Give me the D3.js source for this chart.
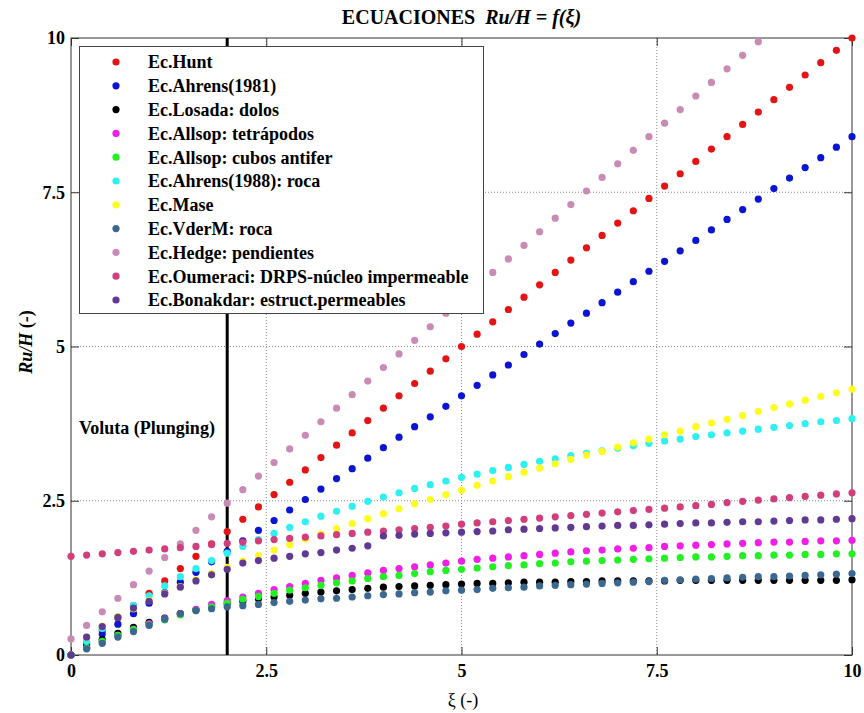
<!DOCTYPE html>
<html>
<head>
<meta charset="utf-8">
<script src="https://cdn.jsdelivr.net/npm/d3@7"></script>
</head>
<body style="margin:0;padding:0;background:#fff">
<svg id="chart" width="864" height="713" font-family="'Liberation Serif'" style="display:block"></svg>
<script>
// ---------------- data ----------------
const xi = [0,0.2,0.4,0.6,0.8,1.0,1.2,1.4,1.6,1.8,
  2.0,2.2,2.4,2.6,2.8,3.0,3.2,3.4,3.6,3.8,
  4.0,4.2,4.4,4.6,4.8,5.0,5.2,5.4,5.6,5.8,
  6.0,6.2,6.4,6.6,6.8,7.0,7.2,7.4,7.6,7.8,
  8.0,8.2,8.4,8.6,8.8,9.0,9.2,9.4,9.6,9.8,10.0];

const hunt = [0,0.2,0.4,0.6,0.8,1.0,1.2,1.4,1.6,1.8,
  2.0,2.2,2.4,2.6,2.8,3.0,3.2,3.4,3.6,3.8,
  4.0,4.2,4.4,4.6,4.8,5.0,5.2,5.4,5.6,5.8,
  6.0,6.2,6.4,6.6,6.8,7.0,7.2,7.4,7.6,7.8,
  8.0,8.2,8.4,8.6,8.8,9.0,9.2,9.4,9.6,9.8,10.0];

const ahrens1981 = [0,0.17,0.34,0.50,0.67,0.84,1.01,1.18,1.34,1.51,
  1.68,1.85,2.02,2.18,2.35,2.52,2.69,2.86,3.02,3.19,
  3.36,3.53,3.70,3.86,4.03,4.20,4.37,4.54,4.70,4.87,
  5.04,5.21,5.38,5.54,5.71,5.88,6.05,6.22,6.38,6.55,
  6.72,6.89,7.06,7.22,7.39,7.56,7.73,7.90,8.06,8.23,8.40];

const losada = [0,0.13,0.25,0.35,0.45,0.53,0.60,0.67,0.73,0.78,
  0.83,0.87,0.91,0.94,0.97,1.00,1.02,1.04,1.06,1.08,
  1.10,1.11,1.12,1.13,1.14,1.15,1.16,1.16,1.17,1.18,
  1.18,1.18,1.19,1.19,1.20,1.20,1.20,1.20,1.20,1.21,
  1.21,1.21,1.21,1.21,1.21,1.21,1.21,1.21,1.21,1.21,1.22];

const allsopTetrapodos = [0,0.11,0.22,0.32,0.42,0.51,0.59,0.67,0.74,0.82,
  0.88,0.94,1.00,1.06,1.11,1.16,1.21,1.25,1.29,1.33,
  1.37,1.40,1.43,1.46,1.49,1.52,1.55,1.57,1.59,1.61,
  1.63,1.65,1.67,1.69,1.70,1.72,1.73,1.74,1.76,1.77,
  1.78,1.79,1.80,1.81,1.82,1.83,1.83,1.84,1.85,1.85,1.86];

const allsopCubos = [0,0.11,0.22,0.32,0.41,0.49,0.57,0.65,0.72,0.78,
  0.84,0.90,0.95,1.00,1.05,1.09,1.13,1.17,1.20,1.24,
  1.27,1.29,1.32,1.35,1.37,1.39,1.41,1.43,1.45,1.46,
  1.48,1.49,1.51,1.52,1.53,1.54,1.55,1.56,1.57,1.58,
  1.59,1.59,1.60,1.61,1.61,1.62,1.62,1.63,1.63,1.64,1.64];

const ahrens1988 = [0,0.22,0.43,0.62,0.80,0.96,1.12,1.27,1.40,1.53,
  1.65,1.76,1.87,1.97,2.07,2.16,2.25,2.33,2.41,2.49,
  2.56,2.63,2.70,2.76,2.82,2.88,2.93,2.99,3.04,3.09,
  3.14,3.18,3.23,3.27,3.31,3.35,3.39,3.43,3.47,3.50,
  3.54,3.57,3.60,3.63,3.66,3.69,3.72,3.75,3.78,3.80,3.83];

const mase = [0,0.29,0.47,0.62,0.75,0.88,1.00,1.11,1.22,1.32,
  1.42,1.52,1.61,1.70,1.79,1.88,1.96,2.05,2.13,2.21,
  2.29,2.37,2.45,2.52,2.60,2.67,2.75,2.82,2.89,2.96,
  3.03,3.10,3.17,3.24,3.30,3.37,3.44,3.50,3.57,3.63,
  3.70,3.76,3.82,3.88,3.95,4.01,4.07,4.13,4.19,4.25,4.31];

const vderm = [0,0.10,0.19,0.29,0.38,0.48,0.58,0.67,0.72,0.75,
  0.78,0.80,0.82,0.85,0.87,0.89,0.91,0.92,0.94,0.96,
  0.98,0.99,1.01,1.02,1.04,1.05,1.06,1.08,1.09,1.10,
  1.12,1.13,1.14,1.15,1.16,1.17,1.18,1.19,1.21,1.22,
  1.23,1.24,1.25,1.26,1.27,1.27,1.28,1.29,1.30,1.31,1.32];

const hedge = [0.26,0.48,0.70,0.92,1.14,1.36,1.58,1.80,2.02,2.24,
  2.46,2.68,2.90,3.12,3.34,3.56,3.78,4.00,4.22,4.44,
  4.66,4.88,5.10,5.32,5.54,5.76,5.98,6.20,6.42,6.64,
  6.86,7.08,7.30,7.52,7.74,7.96,8.18,8.40,8.62,8.84,
  9.06,9.28,9.50,9.72,9.94,10.16,10.38,10.60,10.82,11.04,11.26];

const oumeraci = [1.60,1.62,1.64,1.66,1.68,1.70,1.72,1.74,1.76,1.79,
  1.81,1.83,1.85,1.87,1.89,1.91,1.93,1.95,1.97,1.99,
  2.01,2.03,2.05,2.07,2.09,2.12,2.14,2.16,2.18,2.20,
  2.22,2.24,2.26,2.28,2.30,2.32,2.34,2.36,2.38,2.40,
  2.42,2.44,2.47,2.49,2.51,2.53,2.55,2.57,2.59,2.61,2.63];

const bonakdar = [0,0.29,0.46,0.61,0.76,0.87,0.99,1.10,1.20,1.30,
  1.39,1.49,1.53,1.57,1.60,1.64,1.66,1.70,1.73,1.77,
  1.93,1.94,1.96,1.97,1.98,1.99,2.00,2.01,2.03,2.04,
  2.05,2.06,2.07,2.08,2.09,2.10,2.10,2.11,2.12,2.13,
  2.14,2.14,2.15,2.16,2.16,2.17,2.18,2.19,2.19,2.20,2.21];

const seriesNames = [
  "Ec.Hunt",
  "Ec.Ahrens(1981)",
  "Ec.Losada: dolos",
  "Ec.Allsop: tetrápodos",
  "Ec.Allsop: cubos antifer",
  "Ec.Ahrens(1988): roca",
  "Ec.Mase",
  "Ec.VderM: roca",
  "Ec.Hedge: pendientes",
  "Ec.Oumeraci: DRPS-núcleo impermeable",
  "Ec.Bonakdar: estruct.permeables"
];
const seriesValues = [hunt, ahrens1981, losada, allsopTetrapodos, allsopCubos,
  ahrens1988, mase, vderm, hedge, oumeraci, bonakdar];
const seriesColors = ["#e41414", "#0a14d2", "#000000", "#f01ee6", "#22f022",
  "#2ef0f0", "#fcfc1e", "#3a6890", "#c98bb6", "#d23e7c", "#603a92"];

const xTicks = [0, 2.5, 5, 7.5, 10];
const xTickLabels = ["0", "2.5", "5", "7.5", "10"];
const yTicks = [0, 2.5, 5, 7.5, 10];
const yTickLabels = ["0", "2.5", "5", "7.5", "10"];
const breakerLimit = 2;   // vertical line ξ = 2
const titleMain = "ECUACIONES";
const titleFormula = "Ru/H = f(ξ)";
const yLabelItalic = "Ru/H";
const yLabelRest = " (-)";
const xLabel = "ξ (-)";
const annotation = "Voluta (Plunging)";

// ---------------- layout ----------------
const SERIF = "'Liberation Serif'";
const svg = d3.select("#chart");
const pLeft = 71, pRight = 852, pTop = 38, pBottom = 655;
const x = d3.scaleLinear().domain([0, 10]).range([pLeft, pRight]);
const y = d3.scaleLinear().domain([0, 10]).range([pBottom, pTop]);
const FONT = 18;

// grid
const grid = svg.append("g").attr("stroke", "#8a8a8a").attr("stroke-width", 1)
  .attr("stroke-dasharray", "1,2");
xTicks.filter(d => d > 0 && d < 10).forEach(d => {
  grid.append("line").attr("x1", x(d)).attr("x2", x(d)).attr("y1", pTop).attr("y2", pBottom);
});
yTicks.filter(d => d > 0 && d < 10).forEach(d => {
  grid.append("line").attr("x1", pLeft).attr("x2", pRight).attr("y1", y(d)).attr("y2", y(d));
});

// axes (inward ticks on all four sides)
function styleAxis(g) {
  g.attr("font-family", SERIF).attr("font-size", FONT).attr("font-weight", "bold");
  g.select(".domain").remove();
  g.selectAll(".tick line").attr("stroke", "#333");
  g.selectAll(".tick text").attr("fill", "#000")
    .attr("font-family", SERIF).attr("font-weight", "bold").attr("font-size", FONT);
}
svg.append("g").attr("transform", `translate(0,${pBottom})`)
  .call(d3.axisBottom(x).tickValues(xTicks).tickFormat((d, i) => xTickLabels[i])
    .tickSizeInner(-8).tickSizeOuter(0).tickPadding(9))
  .call(styleAxis);
svg.append("g").attr("transform", `translate(${pLeft},0)`)
  .call(d3.axisLeft(y).tickValues(yTicks).tickFormat((d, i) => yTickLabels[i])
    .tickSizeInner(-8).tickSizeOuter(0).tickPadding(6))
  .call(styleAxis);
svg.append("g").attr("transform", `translate(0,${pTop})`)
  .call(d3.axisTop(x).tickValues(xTicks).tickFormat("").tickSizeInner(-8).tickSizeOuter(0))
  .call(styleAxis);
svg.append("g").attr("transform", `translate(${pRight},0)`)
  .call(d3.axisRight(y).tickValues(yTicks).tickFormat("").tickSizeInner(-8).tickSizeOuter(0))
  .call(styleAxis);

// frame
svg.append("rect").attr("x", pLeft).attr("y", pTop)
  .attr("width", pRight - pLeft).attr("height", pBottom - pTop)
  .attr("fill", "none").attr("stroke", "#333").attr("stroke-width", 1);

// vertical line at ξ = 2
svg.append("line").attr("x1", x(breakerLimit)).attr("x2", x(breakerLimit))
  .attr("y1", pTop).attr("y2", pBottom).attr("stroke", "#000").attr("stroke-width", 3);

// points
seriesValues.forEach((vals, s) => {
  const pts = xi.map((xv, i) => [xv, vals[i]]).filter(p => p[1] <= 10.0001);
  svg.append("g").selectAll("circle").data(pts).join("circle")
    .attr("cx", d => x(d[0])).attr("cy", d => y(d[1])).attr("r", 3.6)
    .attr("fill", seriesColors[s]);
});

// annotation
svg.append("text").attr("x", 79).attr("y", 434)
  .attr("font-family", SERIF).attr("font-weight", "bold").attr("font-size", FONT).text(annotation);

// legend
const lg = svg.append("g");
lg.append("rect").attr("x", 79.5).attr("y", 46.5).attr("width", 404).attr("height", 267)
  .attr("fill", "#fff").attr("stroke", "#444").attr("stroke-width", 1);
seriesNames.forEach((name, i) => {
  const cy = 62 + i * 23.8;
  lg.append("circle").attr("cx", 116).attr("cy", cy).attr("r", 3.6).attr("fill", seriesColors[i]);
  lg.append("text").attr("x", 148).attr("y", cy + 6.3)
    .attr("font-family", SERIF).attr("font-weight", "bold").attr("font-size", FONT).text(name);
});

// title
const t = svg.append("text").attr("x", (pLeft + pRight) / 2).attr("y", 24)
  .attr("text-anchor", "middle").attr("font-family", SERIF)
  .attr("font-size", 20).attr("font-weight", "bold")
  .attr("xml:space", "preserve");
t.append("tspan").text(titleMain + "  ");
t.append("tspan").attr("font-style", "italic").text(titleFormula);

// y label
const yl = svg.append("text").attr("transform", "translate(32,342) rotate(-90)")
  .attr("text-anchor", "middle").attr("font-family", SERIF)
  .attr("font-size", FONT).attr("font-weight", "bold");
yl.append("tspan").attr("font-style", "italic").text(yLabelItalic);
yl.append("tspan").text(yLabelRest);

// x label
svg.append("text").attr("x", 463).attr("y", 706).attr("text-anchor", "middle")
  .attr("font-family", SERIF).attr("font-size", FONT).text(xLabel);
</script>
</body>
</html>
